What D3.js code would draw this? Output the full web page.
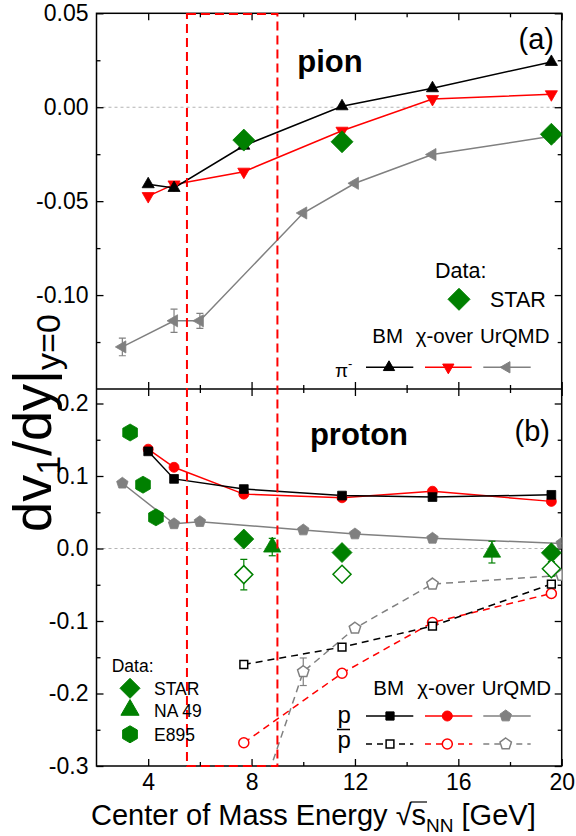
<!DOCTYPE html>
<html><head><meta charset="utf-8">
<script src="https://cdn.jsdelivr.net/npm/d3@7"></script>
<style>
body{margin:0;background:#fff}
svg{display:block}
text{font-family:"Liberation Sans",Arial,Helvetica,sans-serif;fill:#000}
</style>
</head><body>
<svg id="c" width="576" height="836"></svg>
<script>
// ---------------- DATA ----------------
// Panel (a): pion (pi-) directed flow slope
const pionBM_E = [4.0, 5.0, 7.7, 11.5, 15.0, 19.6];
const pionBM_v = [-0.041, -0.043, -0.0205, 0.0005, 0.0101, 0.0241];
const pionCO_E = [4.0, 5.0, 7.7, 11.5, 15.0, 19.6];
const pionCO_v = [-0.0473, -0.0411, -0.0343, -0.0125, 0.0044, 0.0069];
const pionUrQMD_E = [3.0, 5.0, 6.0, 10.0, 12.0, 15.0, 19.6];
const pionUrQMD_v = [-0.1276, -0.1137, -0.1137, -0.0563, -0.0405, -0.0252, -0.0155];
const pionUrQMD_err = [0.0047, 0.0062, 0.004, 0, 0, 0, 0];
const pionSTAR_E = [7.7, 11.5, 19.6];
const pionSTAR_v = [-0.0175, -0.0184, -0.0144];

// Panel (b): proton / antiproton
const protonBM_E = [4.0, 5.0, 7.7, 11.5, 15.0, 19.6];
const protonBM_v = [0.134, 0.096, 0.082, 0.073, 0.071, 0.074];
const protonCO_E = [4.0, 5.0, 7.7, 11.5, 15.0, 19.6];
const protonCO_v = [0.137, 0.112, 0.075, 0.070, 0.079, 0.065];
const protonUrQMD_E = [3.0, 5.0, 6.0, 10.0, 12.0, 15.0, 20.0];
const protonUrQMD_v = [0.090, 0.034, 0.037, 0.0255, 0.020, 0.014, 0.007];

const antiBM_E = [7.7, 11.5, 15.0, 19.6];
const antiBM_v = [-0.160, -0.136, -0.107, -0.049];
const antiCO_E = [7.7, 11.5, 15.0, 19.6];
const antiCO_v = [-0.268, -0.172, -0.102, -0.062];
const antiUrQMD_E = [6.0, 10.0, 12.0, 15.0, 20.0];
const antiUrQMD_v = [-0.59, -0.170, -0.110, -0.049, -0.037];
const antiUrQMD_err = [0, 0.019, 0, 0, 0];

const protonSTAR_E = [7.7, 11.5, 19.6];
const protonSTAR_v = [0.013, -0.0056, -0.006];
const antiSTAR_E = [7.7, 11.5, 19.6];
const antiSTAR_v = [-0.036, -0.0356, -0.028];
const antiSTAR_err = [0.021, 0.005, 0.01];
const NA49_E = [8.8, 17.3];
const NA49_v = [0.002, -0.005];
const NA49_err = [0.012, 0.015];
const E895_E = [3.3, 3.8, 4.3];
const E895_v = [0.160, 0.088, 0.043];

// Axis ticks / labels
const xMajor = [4, 8, 12, 16, 20];
const xMinor = [6, 10, 14, 18];
const xLabels = ["4", "8", "12", "16", "20"];
const yAMajor = [0.05, 0.0, -0.05, -0.10];
const yALabels = ["0.05", "0.00", "-0.05", "-0.10"];
const yAMinor = [0.025, -0.025, -0.075, -0.125];
const yBMajor = [0.2, 0.1, 0.0, -0.1, -0.2, -0.3];
const yBLabels = ["0.2", "0.1", "0.0", "-0.1", "-0.2", "-0.3"];
const yBMinor = [0.15, 0.05, -0.05, -0.15, -0.25];
const highlightE = [5.5, 9.0];

// ---------------- DRAW ----------------
const RED = "#ff0000", GREEN = "#008000", GRAY = "#808080", BLACK = "#000000";
const svg = d3.select("#c");
const L = 96.5, R = 561.7, T = 13.3, MID = 389, B = 766;
const x = d3.scaleLinear().domain([2, 20]).range([L, R]);
const yA = d3.scaleLinear().domain([-0.15, 0.05]).range([MID, T]);
const yB = d3.scaleLinear().domain([-0.3, 0.22]).range([B, MID]);

function poly(n, r, rot) {
  const p = [];
  for (let i = 0; i < n; i++) { const a = rot + i * 2 * Math.PI / n; p.push([r * Math.cos(a), r * Math.sin(a)]); }
  return "M" + p.map(q => q[0].toFixed(2) + "," + q[1].toFixed(2)).join("L") + "Z";
}
const shape = {
  up: r => poly(3, r, -Math.PI / 2),
  down: r => poly(3, r, Math.PI / 2),
  left: r => poly(3, r, Math.PI),
  diamond: r => poly(4, r, -Math.PI / 2),
  square: r => poly(4, r, Math.PI / 4),
  pent: r => poly(5, r, -Math.PI / 2),
  hex: r => poly(6, r, -Math.PI / 2),
  circle: r => `M${r},0A${r},${r} 0 1,1 ${-r},0A${r},${r} 0 1,1 ${r},0Z`
};

const defs = svg.append("defs");
defs.append("clipPath").attr("id", "clipA").append("rect").attr("x", L).attr("y", T).attr("width", R - L).attr("height", MID - T);
defs.append("clipPath").attr("id", "clipB").append("rect").attr("x", L).attr("y", MID).attr("width", R - L).attr("height", B - MID);

// zero lines
[yA, yB].forEach(y => {
  svg.append("line").attr("x1", L).attr("x2", R).attr("y1", y(0)).attr("y2", y(0))
    .attr("stroke", "#b4b4b4").attr("stroke-width", 1.2).attr("stroke-dasharray", "3,3");
});

// axes helper
function styleAxis(g) { g.select(".domain").remove(); g.selectAll("line").attr("stroke", "#000").attr("stroke-width", 1.3); g.selectAll("text").attr("font-family", "Liberation Sans, Arial, sans-serif").attr("fill", "#000"); }
function yAxes(y, major, labels, minor) {
  svg.append("g").attr("transform", `translate(${L},0)`)
    .call(d3.axisLeft(y).tickValues(major).tickSize(-7).tickPadding(8).tickFormat((d, i) => labels[i]))
    .call(styleAxis).selectAll("text").attr("font-size", 23);
  svg.append("g").attr("transform", `translate(${L},0)`)
    .call(d3.axisLeft(y).tickValues(minor).tickSize(-4).tickFormat("")).call(styleAxis);
  svg.append("g").attr("transform", `translate(${R},0)`)
    .call(d3.axisRight(y).tickValues(major).tickSize(-7).tickFormat("")).call(styleAxis);
  svg.append("g").attr("transform", `translate(${R},0)`)
    .call(d3.axisRight(y).tickValues(minor).tickSize(-4).tickFormat("")).call(styleAxis);
}
yAxes(yA, yAMajor, yALabels, yAMinor);
yAxes(yB, yBMajor, yBLabels, yBMinor);

function xTicks(yPos, dir, labels) {
  const ax = dir === "top" ? d3.axisTop : d3.axisBottom;
  const g = svg.append("g").attr("transform", `translate(0,${yPos})`)
    .call(ax(x).tickValues(xMajor).tickSize(-7).tickPadding(7.5).tickFormat((d, i) => labels ? labels[i] : ""))
    .call(styleAxis);
  g.selectAll("text").attr("font-size", 23);
  svg.append("g").attr("transform", `translate(0,${yPos})`)
    .call(ax(x).tickValues(xMinor).tickSize(-4).tickFormat("")).call(styleAxis);
}
xTicks(T, "top");
xTicks(MID, "bottom");
xTicks(MID, "top");
xTicks(B, "bottom", xLabels);

// frame
svg.append("rect").attr("x", L).attr("y", T).attr("width", R - L).attr("height", B - T)
  .attr("fill", "none").attr("stroke", "#000").attr("stroke-width", 1.5);
svg.append("line").attr("x1", L).attr("x2", R).attr("y1", MID).attr("y2", MID).attr("stroke", "#000").attr("stroke-width", 1.5);

// series drawing
function zip(E, v) { return E.map((e, i) => [e, v[i]]); }
function drawLine(g, y, E, v, color, dash) {
  g.append("path").datum(zip(E, v))
    .attr("d", d3.line().x(d => x(d[0])).y(d => y(d[1])))
    .attr("fill", "none").attr("stroke", color).attr("stroke-width", 1.5)
    .attr("stroke-dasharray", dash || null);
}
function drawErr(g, y, E, v, err, color) {
  const d = zip(E, v).map((p, i) => [p[0], p[1], err[i]]).filter(p => p[2] > 0);
  const ge = g.append("g").attr("stroke", color).attr("stroke-width", 1.2);
  d.forEach(p => {
    const cx = x(p[0]), y1 = y(p[1] + p[2]), y2 = y(p[1] - p[2]);
    ge.append("line").attr("x1", cx).attr("x2", cx).attr("y1", y1).attr("y2", y2);
    ge.append("line").attr("x1", cx - 3.5).attr("x2", cx + 3.5).attr("y1", y1).attr("y2", y1);
    ge.append("line").attr("x1", cx - 3.5).attr("x2", cx + 3.5).attr("y1", y2).attr("y2", y2);
  });
}
function drawMarks(g, y, E, v, type, r, color, open) {
  g.append("g").selectAll("path").data(zip(E, v)).join("path")
    .attr("transform", d => `translate(${x(d[0])},${y(d[1])})`)
    .attr("d", shape[type](r))
    .attr("fill", open ? "#fff" : color)
    .attr("stroke", color).attr("stroke-width", open ? 1.5 : 0.8);
}

// Panel (a)
const gA = svg.append("g").attr("clip-path", "url(#clipA)");
drawLine(gA, yA, pionUrQMD_E, pionUrQMD_v, GRAY);
drawLine(gA, yA, pionCO_E, pionCO_v, RED);
drawLine(gA, yA, pionBM_E, pionBM_v, BLACK);
drawErr(gA, yA, pionUrQMD_E, pionUrQMD_v, pionUrQMD_err, GRAY);
drawMarks(gA, yA, pionUrQMD_E, pionUrQMD_v, "left", 7, GRAY);
drawMarks(gA, yA, pionCO_E, pionCO_v, "down", 7, RED);
drawMarks(gA, yA, pionBM_E, pionBM_v, "up", 7, BLACK);
drawMarks(gA, yA, pionSTAR_E, pionSTAR_v, "diamond", 11, GREEN);

// Panel (b)
const gB = svg.append("g").attr("clip-path", "url(#clipB)");
drawLine(gB, yB, protonUrQMD_E, protonUrQMD_v, GRAY);
drawLine(gB, yB, protonCO_E, protonCO_v, RED);
drawLine(gB, yB, protonBM_E, protonBM_v, BLACK);
drawLine(gB, yB, antiUrQMD_E, antiUrQMD_v, GRAY, "7,5");
drawLine(gB, yB, antiCO_E, antiCO_v, RED, "7,5");
drawLine(gB, yB, antiBM_E, antiBM_v, BLACK, "7,5");
drawErr(gB, yB, antiUrQMD_E, antiUrQMD_v, antiUrQMD_err, GRAY);
drawMarks(gB, yB, protonUrQMD_E, protonUrQMD_v, "pent", 6, GRAY);
drawMarks(gB, yB, protonCO_E, protonCO_v, "circle", 5, RED);
drawMarks(gB, yB, protonBM_E, protonBM_v, "square", 6.2, BLACK);
drawMarks(gB, yB, antiUrQMD_E, antiUrQMD_v, "pent", 6, GRAY, true);
drawMarks(gB, yB, antiCO_E, antiCO_v, "circle", 5, RED, true);
drawMarks(gB, yB, antiBM_E, antiBM_v, "square", 5.5, BLACK, true);
drawErr(gB, yB, antiSTAR_E, antiSTAR_v, antiSTAR_err, GREEN);
drawErr(gB, yB, NA49_E, NA49_v, NA49_err, GREEN);
drawMarks(gB, yB, E895_E, E895_v, "hex", 8.5, GREEN);
drawMarks(gB, yB, protonSTAR_E, protonSTAR_v, "diamond", 10, GREEN);
drawMarks(gB, yB, antiSTAR_E, antiSTAR_v, "diamond", 9, GREEN, true);
drawMarks(gB, yB, NA49_E, NA49_v, "up", 10, GREEN);

// highlighted energy window (red dashed box)
svg.append("rect").attr("x", x(highlightE[0])).attr("y", T + 0.7)
  .attr("width", x(highlightE[1]) - x(highlightE[0])).attr("height", B - T - 0.7)
  .attr("fill", "none").attr("stroke", RED).attr("stroke-width", 2).attr("stroke-dasharray", "9,5");

// ---------------- TEXT ----------------
function txt(xp, yp, s, size, opts = {}) {
  const t = svg.append("text").attr("x", xp).attr("y", yp).attr("font-size", size).text(s);
  if (opts.bold) t.attr("font-weight", "bold");
  if (opts.anchor) t.attr("text-anchor", opts.anchor);
  return t;
}
txt(330, 72, "pion", 31, { bold: true, anchor: "middle" });
txt(359, 445, "proton", 31, { bold: true, anchor: "middle" });
txt(554, 49, "(a)", 29, { anchor: "end" });
txt(550, 441, "(b)", 29, { anchor: "end" });

// Legend (a)
txt(435, 278, "Data:", 21.5);
svg.append("path").attr("transform", "translate(459,299.3)").attr("d", shape.diamond(11)).attr("fill", GREEN).attr("stroke", GREEN);
txt(490, 306.7, "STAR", 21.5);
txt(372.3, 343.3, "BM", 20.5);
txt(415.7, 343.3, "χ-over", 20.5);
txt(480, 343.3, "UrQMD", 20.5);
const pi = txt(335, 377, "π", 19);
pi.append("tspan").attr("font-size", 13).attr("dy", -9).text("-");
const legA = [[366, 413.3, 389, BLACK, "up"], [425, 471.7, 448.3, RED, "down"], [483.3, 530.7, 506.7, GRAY, "left"]];
legA.forEach(([a, b, m, c, s]) => {
  svg.append("line").attr("x1", a).attr("x2", b).attr("y1", 367.3).attr("y2", 367.3).attr("stroke", c).attr("stroke-width", 1.5);
  svg.append("path").attr("transform", `translate(${m},367.3)`).attr("d", shape[s](6.5)).attr("fill", c).attr("stroke", c);
});

// Legend (b) data
txt(111.7, 672.3, "Data:", 17.5);
[[688.3, "diamond", 10, "STAR", 695], [710, "up", 10.5, "NA 49", 716.5], [734.3, "hex", 8.5, "E895", 740.5]].forEach(([yy, s, r, lab, by]) => {
  svg.append("path").attr("transform", `translate(130,${yy})`).attr("d", shape[s](r)).attr("fill", GREEN).attr("stroke", GREEN);
  txt(154, by, lab, 17.5);
});

// Legend (b) models
txt(373.3, 695, "BM", 20.5);
txt(417.3, 695, "χ-over", 20.5);
txt(481.7, 695, "UrQMD", 20.5);
txt(337.5, 723, "p", 24);
txt(337.5, 748, "p", 24);
svg.append("line").attr("x1", 337).attr("x2", 350).attr("y1", 729.5).attr("y2", 729.5).attr("stroke", "#000").attr("stroke-width", 1.5);
const legB = [[366, 413.3, 390, BLACK, "square", 5.8, 5.5], [425, 472.3, 447.3, RED, "circle", 5, 5], [483.3, 530.7, 505.7, GRAY, "pent", 6, 6]];
legB.forEach(([a, b, m, c, s, r1, r2]) => {
  svg.append("line").attr("x1", a).attr("x2", b).attr("y1", 716).attr("y2", 716).attr("stroke", c).attr("stroke-width", 1.5);
  svg.append("path").attr("transform", `translate(${m},716)`).attr("d", shape[s](r1)).attr("fill", c).attr("stroke", c);
  svg.append("line").attr("x1", a).attr("x2", b).attr("y1", 744).attr("y2", 744).attr("stroke", c).attr("stroke-width", 1.5).attr("stroke-dasharray", "6,5");
  svg.append("path").attr("transform", `translate(${m},744)`).attr("d", shape[s](r2)).attr("fill", "#fff").attr("stroke", c).attr("stroke-width", 1.5);
});

// X axis title
const xt = svg.append("text").attr("x", 91).attr("y", 825).attr("font-size", 29);
xt.append("tspan").text("Center of Mass Energy √");
xt.append("tspan").text("s");
xt.append("tspan").attr("font-size", 19).attr("dy", 7).text("NN");
xt.append("tspan").attr("dy", -7).text(" [GeV]");
try {
  const idx = "Center of Mass Energy √".length;
  const ex = xt.node().getExtentOfChar(idx);
  const exr = xt.node().getExtentOfChar(idx - 1);
  svg.append("line").attr("x1", exr.x + exr.width - 1).attr("x2", ex.x + ex.width + 1)
    .attr("y1", exr.y + 3).attr("y2", exr.y + 3).attr("stroke", "#000").attr("stroke-width", 1.2);
} catch (e) {}

// Y axis title
const yt = svg.append("text").attr("transform", "translate(51,423) rotate(-90)").attr("text-anchor", "middle").attr("font-size", 54);
yt.append("tspan").text("dv");
yt.append("tspan").attr("font-size", 34).attr("dy", 9).text("1");
yt.append("tspan").attr("dy", -9).text("/dy|");
yt.append("tspan").attr("font-size", 34).attr("dy", 9).text("y=0");
</script>
</body></html>
